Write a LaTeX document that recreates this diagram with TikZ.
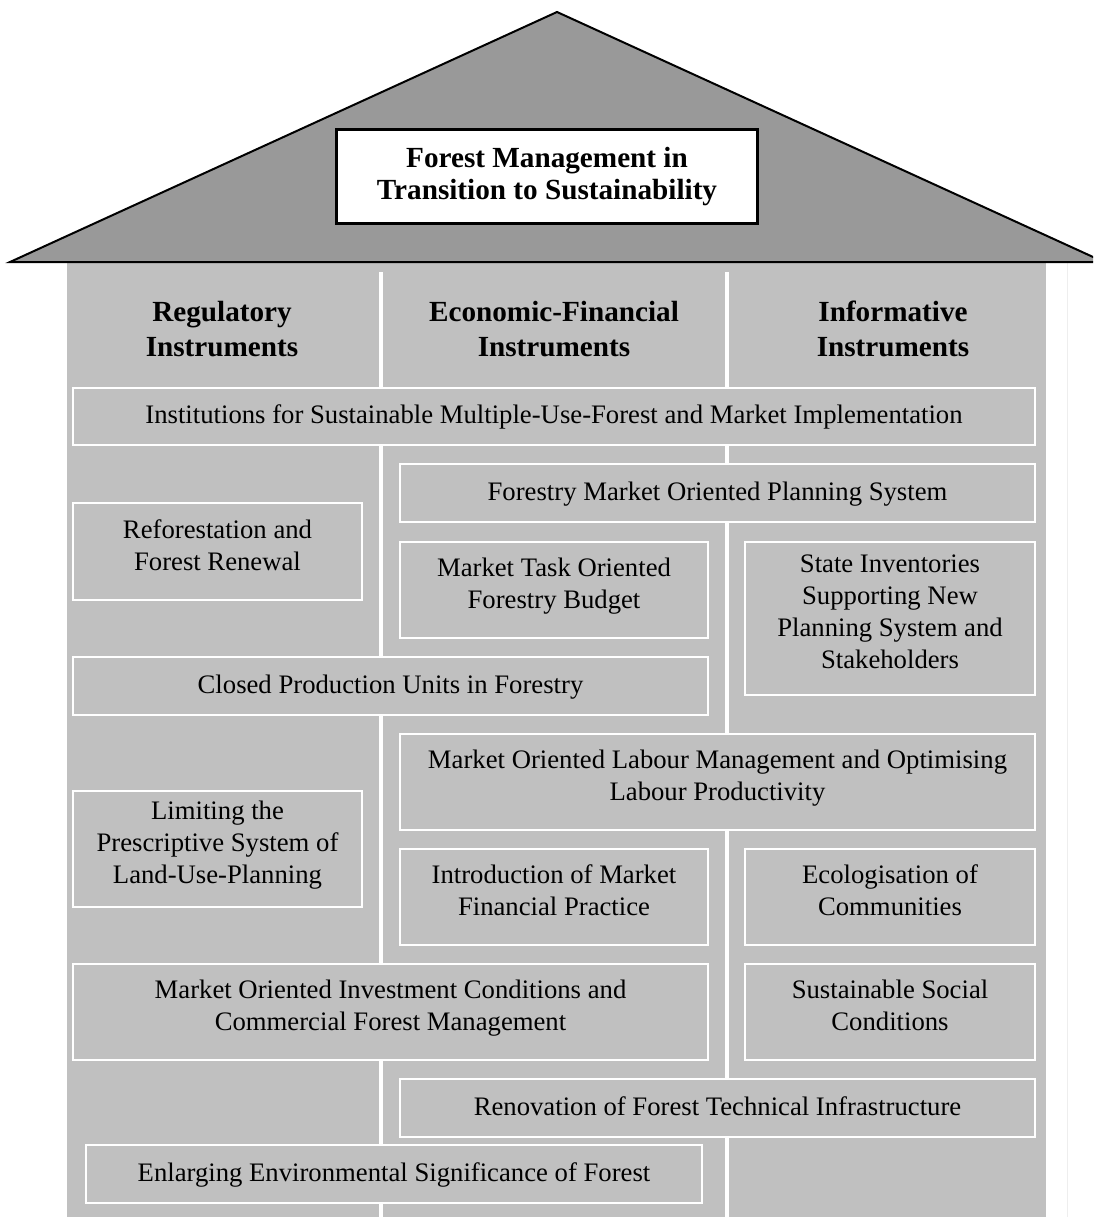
\documentclass[tikz,border=0pt]{standalone}
\usepackage{fontspec}
\setmainfont{Liberation Serif}
\usepackage{tikz}

\definecolor{roofgray}{HTML}{999999}
\definecolor{wallgray}{HTML}{C0C0C0}
\definecolor{edgegray}{HTML}{EEEEEE}

\tikzset{
  box/.style={draw=white, line width=2pt, fill=wallgray, rectangle,
    align=center, inner sep=0pt, text depth=13pt,
    font=\fontsize{26.7}{32}\selectfont},
  onebox/.style={box, text depth=4pt},
  head/.style={align=center, font=\bfseries\fontsize{29.2}{35}\selectfont},
}

\begin{document}
\begin{tikzpicture}[x=1pt, y=-1pt]
		\useasboundingbox (0,0) rectangle (1093,1217);
		\clip (0,0) rectangle (1093,1217);

		% walls and roof
		\fill[wallgray] (67,262) rectangle (1046,1217);
		\draw[edgegray, line width=1pt] (1067,262) -- (1067,1217);
		\draw[fill=roofgray, line width=2pt, line join=miter] (10,262) -- (557,12) -- (1104,262) -- cycle;

		\node[draw, line width=2.5pt, fill=white, minimum width=421pt, minimum height=94pt,
		  align=center, font=\bfseries\fontsize{29.2}{32}\selectfont] (title) at (547,176.5)
		  {Forest Management in\\Transition to Sustainability};

		% column dividers
		\coordinate (c1top) at (381,272);
		\coordinate (c1bot) at (381,1217);
		\coordinate (c2top) at (726.5,272);
		\coordinate (c2bot) at (726.5,1217);
		\draw[white, line width=4pt] (c1top) -- (c1bot);
		\draw[white, line width=4pt] (c2top) -- (c2bot);

		% column heads
		\node[head] (regul) at (222,329) {Regulatory\\Instruments};
		\node[head] (econ)  at (554,329) {Economic-Financial\\Instruments};
		\node[head] (info)  at (893,329) {Informative\\Instruments};

		% instruments
		\node[onebox, minimum width=962pt, minimum height=57pt] (inst) at (554,416.5)
		  {Institutions for Sustainable Multiple-Use-Forest and Market Implementation};
		\node[onebox, minimum width=635pt, minimum height=58pt] (plan) at (717.5,493)
		  {Forestry Market Oriented Planning System};
		\node[box, minimum width=289pt, minimum height=97pt] (refor) at (217.5,551.5)
		  {Reforestation and\\Forest Renewal};
		\node[box, minimum width=308pt, minimum height=96pt] (budget) at (554,590)
		  {Market Task Oriented\\Forestry Budget};
		\node[box, minimum width=290pt, minimum height=153pt] (invent) at (890,618.5)
		  {State Inventories\\Supporting New\\Planning System and\\Stakeholders};
		\node[onebox, minimum width=635pt, minimum height=58pt] (units) at (390.5,686)
		  {Closed Production Units in Forestry};
		\node[box, minimum width=635pt, minimum height=96pt] (labour) at (717.5,782)
		  {Market Oriented Labour Management and Optimising\\Labour Productivity};
		\node[box, minimum width=289pt, minimum height=116pt] (limit) at (217.5,849)
		  {Limiting the\\Prescriptive System of\\Land-Use-Planning};
		\node[box, minimum width=308pt, minimum height=96pt] (finance) at (554,897)
		  {Introduction of Market\\Financial Practice};
		\node[box, minimum width=290pt, minimum height=96pt] (ecol) at (890,897)
		  {Ecologisation of\\Communities};
		\node[box, minimum width=635pt, minimum height=96pt] (invest) at (390.5,1012)
		  {Market Oriented Investment Conditions and\\Commercial Forest Management};
		\node[box, minimum width=290pt, minimum height=96pt] (social) at (890,1012)
		  {Sustainable Social\\Conditions};
		\node[onebox, minimum width=635pt, minimum height=58pt] (renov) at (717.5,1108)
		  {Renovation of Forest Technical Infrastructure};
		\node[onebox, minimum width=616pt, minimum height=58pt] (enlarge) at (394,1174)
		  {Enlarging Environmental Significance of Forest};
	\end{tikzpicture}
\end{document}
